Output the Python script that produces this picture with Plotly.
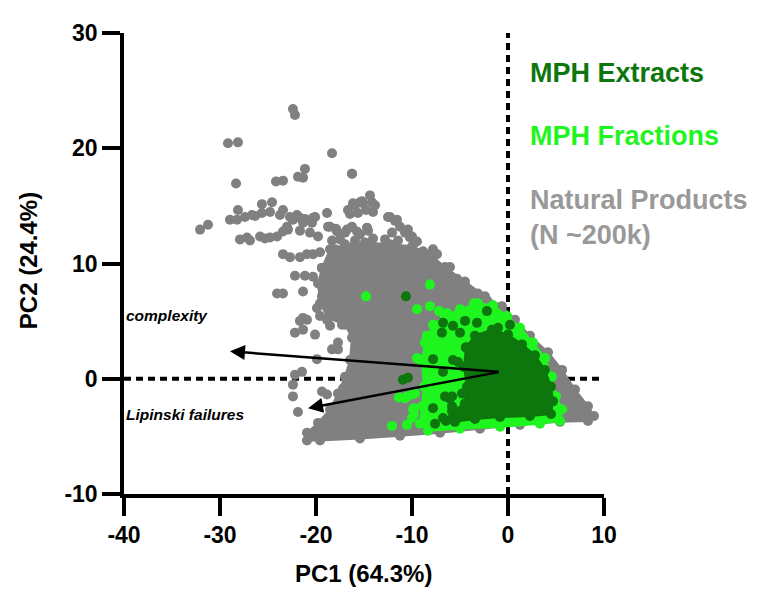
import plotly.graph_objects as go

# ---------------- data (PC1, PC2 scores) ----------------
# Natural products: scattered points
np_x = [-22.4, -22.19, -29.17, -28.13, -18.33, -28.33, -24.17, -23.44, -21.88, -21.35,
        -21.15, -16.25, -32.08, -31.25, -28.23, -27.4, -26.35, -25.63, -24.79, -24.58,
        -25.63, -28.13, -23.44, -23.02, -22.4, -21.67, -21.35, -20.1, -18.85, -16.46,
        -18.54, -17.81, -16.77, -15.73, -14.69, -15.1, -14.38, -14.17, -16.15, -14.06,
        -12.29, -11.56, -11.25, -10.42, -10.0, -9.48, -8.85, -7.81, -7.4, -8.13,
        -7.08, -6.04, -5.31, -4.69, -3.13, -2.19, -27.92, -27.19, -25.83, -24.79,
        -23.44, -20.31, -23.44, -22.71, -21.67, -20.94, -20.31, -19.58, -18.02, -22.19,
        -21.15, -20.31, -24.06, -21.35, -19.9, -21.35, -19.58, -19.38, -20.94, -22.19,
        -21.35, -20.1, -18.85, -18.54, -17.29, -17.71, -18.33, -19.9, -21.46, -22.19,
        -22.4, -22.4, -21.88, -19.38, -18.85, -17.19, -17.71, -15.42, -16.25,
        -22.71, -21.98, -21.15, -20.42, -22.92, -21.67, -20.63, -19.79,
        -18.75, -17.92, -16.98, -16.25, -15.42, -14.58, -14.06, -17.5, -15.94, -18.33,
        -12.5, -11.77, -10.73, -10.21, -12.08, -11.46, -9.69, -12.81,
        -16.67, -15.94, -15.21, -13.85, -15.63, -14.79,
        -23.44, -21.67, -26.88, -25.31, -24.06, -26.67, -23.75, -28.96]
np_y = [23.4, 22.89, 20.43, 20.51, 19.57, 16.94, 17.11, 17.19, 17.53, 17.45,
        18.21, 17.79, 12.94, 13.36, 13.79, 14.04, 14.13, 14.38, 14.47, 15.32,
        15.15, 14.64, 14.64, 13.19, 13.79, 13.96, 13.53, 14.04, 14.38, 14.3,
        13.19, 12.77, 12.94, 12.77, 13.11, 15.23, 15.91, 15.32, 15.23, 14.47,
        14.04, 13.79, 13.19, 12.94, 12.34, 11.91, 11.06, 11.23, 10.81, 10.21,
        9.36, 9.7, 8.68, 8.0, 7.4, 6.81, 12.09, 12.26, 12.34, 12.26,
        12.77, 13.96, 10.81, 10.55, 10.55, 10.81, 10.81, 10.98, 11.23, 8.94,
        8.94, 8.85, 7.4, 7.57, 6.13, 5.28, 5.45, 7.15, 5.11, 4.0,
        4.26, 3.83, 5.11, 4.6, 4.68, 3.15, 2.55, 1.7, 0.6, 0.34,
        -0.51, -1.53, -2.89, -1.11, -1.36, -0.85, 2.55, 15.32, 17.79,
        14.04, 14.21, 13.87, 13.53, 12.94, 12.85, 12.68, 12.34,
        13.19, 13.02, 12.68, 13.19, 12.51, 12.85, 12.17, 12.09, 12.0, 12.0,
        14.04, 13.7, 12.68, 12.26, 12.68, 12.0, 11.83, 12.09,
        14.64, 15.06, 15.4, 15.06, 14.38, 14.64,
        7.4, 5.02, 12.0, 12.17, 12.34, 14.21, 14.21, 13.79]

# Natural products: outline of the dense core
np_core_x = [-19.38, -18.54, -16.98, -14.9, -12.29, -10.0, -8.13, -6.56, -4.48,
             -2.4, -0.63, 0.73, 2.29, 4.17, 5.63, 6.98, 8.33, 8.96, 8.33,
             5.42, 1.25, -2.92, -7.08, -11.25, -15.42, -19.58, -20.94, -20.94, -19.79,
             -18.54, -17.71, -16.98, -16.46, -16.25, -16.98, -18.75, -19.58, -19.79]
np_core_y = [9.62, 11.23, 11.66, 11.83, 11.66, 11.49, 10.81, 9.7, 8.43,
             7.15, 6.3, 5.11, 3.74, 2.3, 0.77, -0.94, -2.38, -3.23, -3.66,
             -3.74, -4.0, -4.34, -4.68, -4.94, -5.19, -5.36, -5.36, -4.68, -3.83,
             -2.64, -1.28, 0.17, 1.62, 3.57, 4.68, 5.28, 6.55, 8.26]

# MPH fractions: scattered points
fr_x = [-14.79, -8.13, -9.48, -8.13, -7.19, -8.44, -9.48, -10.52, -11.35, -9.9,
        -10.0, -12.08, -10.52, -9.79, -9.79, -9.17, -8.33, -7.81, -6.35, -10.0,
        -10.73, -3.54, -9.69]
fr_y = [7.15, 8.17, 6.04, 6.3, 5.87, 3.74, 1.79, -1.53, -1.62, -2.64,
        -3.4, -4.09, -4.0, -3.06, -2.55, 1.7, 3.57, 2.55, 5.7, -1.36,
        -1.7, 6.55, -1.28]

# MPH fractions: outline of the dense core
fr_core_x = [-8.65, -7.81, -6.56, -5.0, -3.13, -1.56, -0.1, 1.25, 2.6, 3.85,
             4.58, 5.0, 5.63, 5.42, 3.33, -0.83, -5.0, -8.33, -9.17, -8.96,
             -8.75, -8.96]
fr_core_y = [3.15, 4.68, 5.45, 6.04, 6.55, 6.38, 5.45, 4.43, 3.15, 1.79,
             0.17, -1.53, -2.64, -3.66, -3.91, -4.17, -4.34, -4.51, -3.91, -2.38,
             -0.68, 1.45]

# MPH extracts: scattered points
ex_x = [-10.63, -10.94, -10.42, -7.81, -5.73, -6.77, -6.88, -5.73, -3.23, -2.19,
        -6.77, -7.81, -6.77, -7.6, -5.83, -4.27, -5.0, -4.48, -5.83, -6.56,
        -4.79, -5.21, -1.04, 0.21, -6.1]
ex_y = [7.15, -0.09, 0.09, 1.7, 1.62, 4.85, 4.0, 4.6, 4.85, 5.87,
        0.6, -2.55, -3.4, -3.91, -2.38, 2.72, 4.0, 5.02, -1.53, -1.53,
        -1.28, 1.45, 4.43, 4.68, -1.7]

# MPH extracts: outline of the dense core
ex_core_x = [-4.38, -3.44, -1.67, 0.0, 1.46, 2.81, 3.85, 4.48, 4.69, 4.48,
             2.29, -0.83, -3.44, -5.52, -6.46, -5.83, -4.48, -4.27, -4.58]
ex_core_y = [2.72, 3.74, 4.26, 3.83, 2.98, 2.04, 0.77, -0.68, -1.96, -3.06,
             -3.23, -3.32, -3.49, -3.74, -3.66, -2.81, -2.13, -0.68, 1.02]

# loading vectors (origin -> head)
vec_origin = (-0.83, 0.6)
vec_names = ["complexity", "Lipinski failures"]
vec_head_x = [-28.96, -20.83]
vec_head_y = [2.38, -2.55]
vec_label_y = [5.45, -3.06]

x_ticks = [-40, -30, -20, -10, 0, 10]
x_tick_text = ["-40", "-30", "-20", "-10", "0", "10"]
y_ticks = [-10, 0, 10, 20, 30]
y_tick_text = ["-10", "0", "10", "20", "30"]

legend_names = ["MPH Extracts", "MPH Fractions", "Natural Products<br>(N ~200k)"]

# ---------------- styling ----------------
GREY = "#808080"
LIGHT = "#1ff51f"
DARK = "#0d760d"
FONT = "Liberation Sans, Arial, sans-serif"
MS = 10

fig = go.Figure()


def add_group(core_x, core_y, pts_x, pts_y, color):
    cx = core_x + [core_x[0]]
    cy = core_y + [core_y[0]]
    fig.add_trace(go.Scatter(x=cx, y=cy, mode="lines+markers", fill="toself",
                             fillcolor=color, line=dict(color=color, width=2),
                             marker=dict(size=MS, color=color, line=dict(width=0)),
                             hoverinfo="skip", showlegend=False))
    fig.add_trace(go.Scatter(x=pts_x, y=pts_y, mode="markers",
                             marker=dict(size=MS, color=color, line=dict(width=0)),
                             hoverinfo="skip", showlegend=False))


add_group(np_core_x, np_core_y, np_x, np_y, GREY)
add_group(fr_core_x, fr_core_y, fr_x, fr_y, LIGHT)
add_group(ex_core_x, ex_core_y, ex_x, ex_y, DARK)

# dotted reference lines
fig.add_shape(type="line", x0=-40, x1=10, y0=0, y1=0, xref="x", yref="y", layer="below",
              line=dict(color="black", width=4, dash="7px,5px"))
fig.add_shape(type="line", x0=0, x1=0, y0=-10, y1=30.5, xref="x", yref="y", layer="below",
              line=dict(color="black", width=4, dash="7px,5px"))

# loading arrows
for hx, hy in zip(vec_head_x, vec_head_y):
    fig.add_annotation(x=hx, y=hy, ax=vec_origin[0], ay=vec_origin[1], xref="x", yref="y",
                       axref="x", ayref="y", text="", showarrow=True, arrowhead=2,
                       arrowsize=1.2, arrowwidth=2.5, arrowcolor="black")
for name, ly in zip(vec_names, vec_label_y):
    fig.add_annotation(x=-40.0, y=ly, xref="x", yref="y", text=name, showarrow=False,
                       xanchor="left", yanchor="middle",
                       font=dict(family=FONT, size=15.5, color="black", weight="bold", style="italic"))

# legend-like labels
leg_y = [26.55, 21.02, 14.0]
leg_col = [DARK, LIGHT, "#999999"]
for name, yy, col in zip(legend_names, leg_y, leg_col):
    fig.add_annotation(x=2.1, y=yy, xref="x", yref="y", text=name, showarrow=False,
                       xanchor="left", yanchor="middle", align="left",
                       font=dict(family=FONT, size=27, color=col, weight="bold"))

# axis titles
fig.add_annotation(x=0.498, y=-0.172, xref="paper", yref="paper", text="PC1 (64.3%)",
                   showarrow=False, xanchor="center", yanchor="middle",
                   font=dict(family=FONT, size=24, color="black", weight="bold"))
fig.add_annotation(x=-0.2, y=0.505, xref="paper", yref="paper", text="PC2 (24.4%)",
                   showarrow=False, xanchor="center", yanchor="middle", textangle=-90,
                   font=dict(family=FONT, size=24, color="black", weight="bold"))

axis_common = dict(showline=True, linewidth=3.5, linecolor="black", ticks="outside",
                   ticklen=18, tickwidth=3.5, tickcolor="black", showgrid=False,
                   zeroline=False,
                   tickfont=dict(family=FONT, size=23, color="black", weight="bold"))

# the page body adds an 8px offset, so the figure is 8px smaller on each side
fig.update_layout(
    width=753, height=587,
    margin=dict(l=116, r=157, t=16, b=101),
    paper_bgcolor="white", plot_bgcolor="white",
    xaxis=dict(range=[-40, 10], tickvals=x_ticks, ticktext=x_tick_text, **axis_common),
    yaxis=dict(range=[-10, 30], tickvals=y_ticks, ticktext=y_tick_text, **axis_common),
    showlegend=False,
)

fig.write_html("out.html")
